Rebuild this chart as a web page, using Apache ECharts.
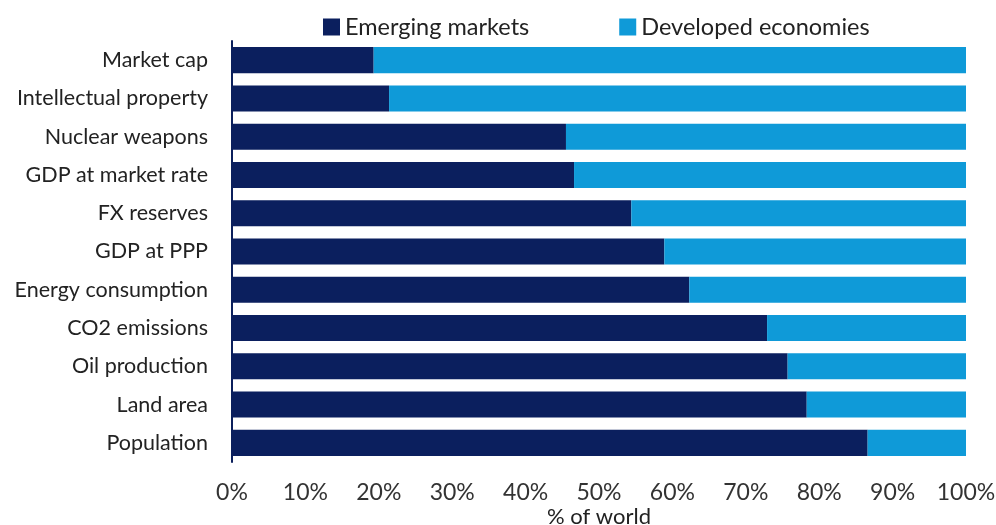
<!DOCTYPE html>
<html><head><meta charset="utf-8">
<script src="https://cdn.jsdelivr.net/npm/echarts@6/dist/echarts.min.js"></script>
<style>html,body{margin:0;padding:0;background:#fff}#c{width:996px;height:525px}</style>
</head><body><div id="c"></div>
<script>
const categories = ["Market cap","Intellectual property","Nuclear weapons","GDP at market rate","FX reserves","GDP at PPP","Energy consumption","CO2 emissions","Oil production","Land area","Population"];
const emerging = [19.3,21.4,45.5,46.6,54.4,58.9,62.3,72.9,75.7,78.3,86.6];
const developed = emerging.map(v => +(100 - v).toFixed(1));
const xTicks = [0,10,20,30,40,50,60,70,80,90,100];

const font = "Lato";
const chart = echarts.init(document.getElementById('c'));
chart.setOption({
  animation:false,
  textStyle:{fontFamily:font},
  legend:{
    top:10, left:318, itemWidth:17, itemHeight:17, itemGap:90, icon:'rect',
    textStyle:{fontSize:23.5, color:'#222', fontFamily:font},
    data:['Emerging markets','Developed economies']
  },
  grid:{left:232, right:30, top:41, bottom:63, outerBoundsMode:'none', containLabel:false},
  xAxis:{
    type:'value', min:0, max:100, interval:10,
    name:'% of world', nameLocation:'middle', nameGap:44, nameMoveOverlap:false,
    nameTextStyle:{fontSize:22, color:'#222', fontFamily:font},
    axisLabel:{formatter:v=>v+'%', fontSize:23, color:'#333', margin:19, fontFamily:font},
    axisLine:{show:false}, axisTick:{show:false}, splitLine:{show:false}
  },
  yAxis:{
    type:'category', data:categories, inverse:true,
    axisLabel:{fontSize:21.5, color:'#222', margin:24, fontFamily:font},
    axisLine:{show:true, lineStyle:{color:'#0b1f5c', width:2}},
    axisTick:{show:false}
  },
  series:[
    {name:'Emerging markets', type:'bar', stack:'s', data:emerging, barWidth:'68%', itemStyle:{color:'#0b1f5e'}},
    {name:'Developed economies', type:'bar', stack:'s', data:developed, barWidth:'68%', itemStyle:{color:'#0f9ad8'}}
  ]
});
</script></body></html>
